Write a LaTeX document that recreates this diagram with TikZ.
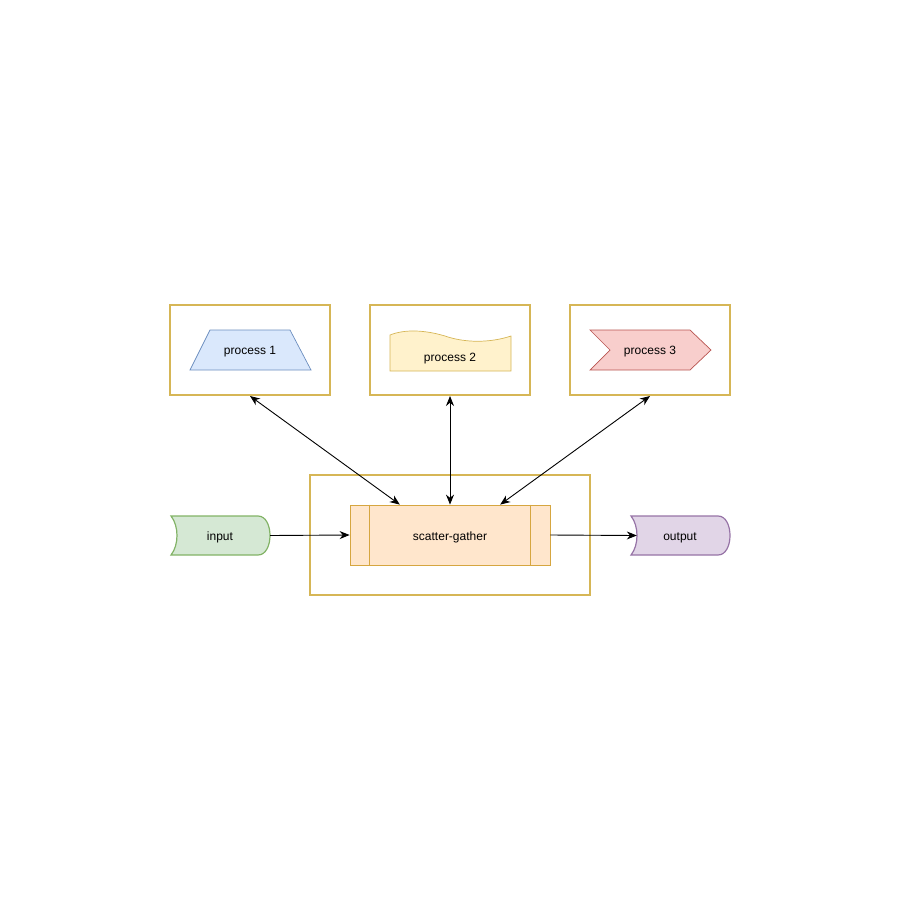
\documentclass[tikz,border=0pt]{standalone}
\usepackage{fontspec}
\setmainfont{Liberation Sans}
\usetikzlibrary{arrows.meta, calc}
\definecolor{goldline}{HTML}{D6B656}
\definecolor{blueline}{HTML}{6C8EBF}
\definecolor{bluefill}{HTML}{DAE8FC}
\definecolor{yellowfill}{HTML}{FFF2CC}
\definecolor{redline}{HTML}{B85450}
\definecolor{redfill}{HTML}{F8CECC}
\definecolor{orangeline}{HTML}{D6A640}
\definecolor{orangefill}{HTML}{FFE6CC}
\definecolor{greenline}{HTML}{82B366}
\definecolor{greenfill}{HTML}{D5E8D4}
\definecolor{purpleline}{HTML}{9673A6}
\definecolor{purplefill}{HTML}{E1D5E7}
\begin{document}
\begin{tikzpicture}[x=1pt, y=-1pt,
    frame/.style={draw=goldline, line width=2pt, minimum width=160pt, minimum height=90pt, inner sep=0pt},
    label/.style={font=\fontsize{12}{14}\selectfont, inner sep=0pt},
    arrow/.style={-{Stealth[length=10pt,width=8pt]}, line width=0.9pt},
    twoway/.style={{Stealth[length=10pt,width=8pt]}-{Stealth[length=10pt,width=8pt]}, line width=0.9pt}
]
\useasboundingbox (0,0) rectangle (900,900);

% shapes inside the frames
\draw[draw=blueline, fill=bluefill, line width=0.7pt] (210,330) -- (290,330) -- (311,370) -- (190,370) -- cycle;
\draw[draw=goldline, fill=yellowfill, line width=0.7pt] (390,335) .. controls (405,329) and (425,330) .. (445,336)
    .. controls (465,343) and (490,343) .. (511,336) -- (511,371) -- (390,371) -- cycle;
\draw[draw=redline, fill=redfill, line width=0.7pt] (590,330) -- (690,330) -- (711,350) -- (690,370) -- (590,370) -- (610,350) -- cycle;

% input and output
\draw[draw=greenline, fill=greenfill, line width=1.2pt] (171,516) -- (258,516) .. controls (274,516) and (274,555) .. (258,555)
    -- (171,555) .. controls (179,545) and (179,526) .. (171,516) -- cycle;
\draw[shift={(460,0)}, draw=purpleline, fill=purplefill, line width=1.2pt] (171,516) -- (258,516) .. controls (274,516) and (274,555) .. (258,555)
    -- (171,555) .. controls (179,545) and (179,526) .. (171,516) -- cycle;

\node[frame] at (250,350) (f1) {};
\node[frame] at (450,350) (f2) {};
\node[frame] at (650,350) (f3) {};
\node[frame, minimum width=280pt, minimum height=120pt] at (450,535) (sgframe) {};

\node[label] at (250,352) (p1) {process 1};
\node[label] at (450,359) (p2) {process 2};
\node[label] at (650,352) (p3) {process 3};

\node[draw=orangeline, fill=orangefill, line width=0.8pt, minimum width=200pt, minimum height=60pt] at (450,535) (sg) {};
\node[label] at (450,537) (sgtext) {scatter-gather};
\draw[orangeline, line width=0.8pt] ([xshift=20pt]sg.north west) -- ([xshift=20pt]sg.south west);
\draw[orangeline, line width=0.8pt] ([xshift=-20pt]sg.north east) -- ([xshift=-20pt]sg.south east);

\node[minimum width=100pt, minimum height=39pt, inner sep=0pt] at (220,535.5) (in) {};
\node[minimum width=100pt, minimum height=39pt, inner sep=0pt] at (680,535.5) (out) {};
\node[label] at (220,537.5) (intext) {input};
\node[label] at (680,538) (outtext) {output};

\draw[arrow] (in.east) -- (sg.west);
\draw[arrow] (sg.east) -- ([xshift=7pt]out.west);
\draw[twoway] (f1.south) -- ($(sg.north)!0.5!(sg.north west)$);
\draw[twoway] (f2.south) -- (sg.north);
\draw[twoway] (f3.south) -- ($(sg.north)!0.5!(sg.north east)$);
\end{tikzpicture}
\end{document}
